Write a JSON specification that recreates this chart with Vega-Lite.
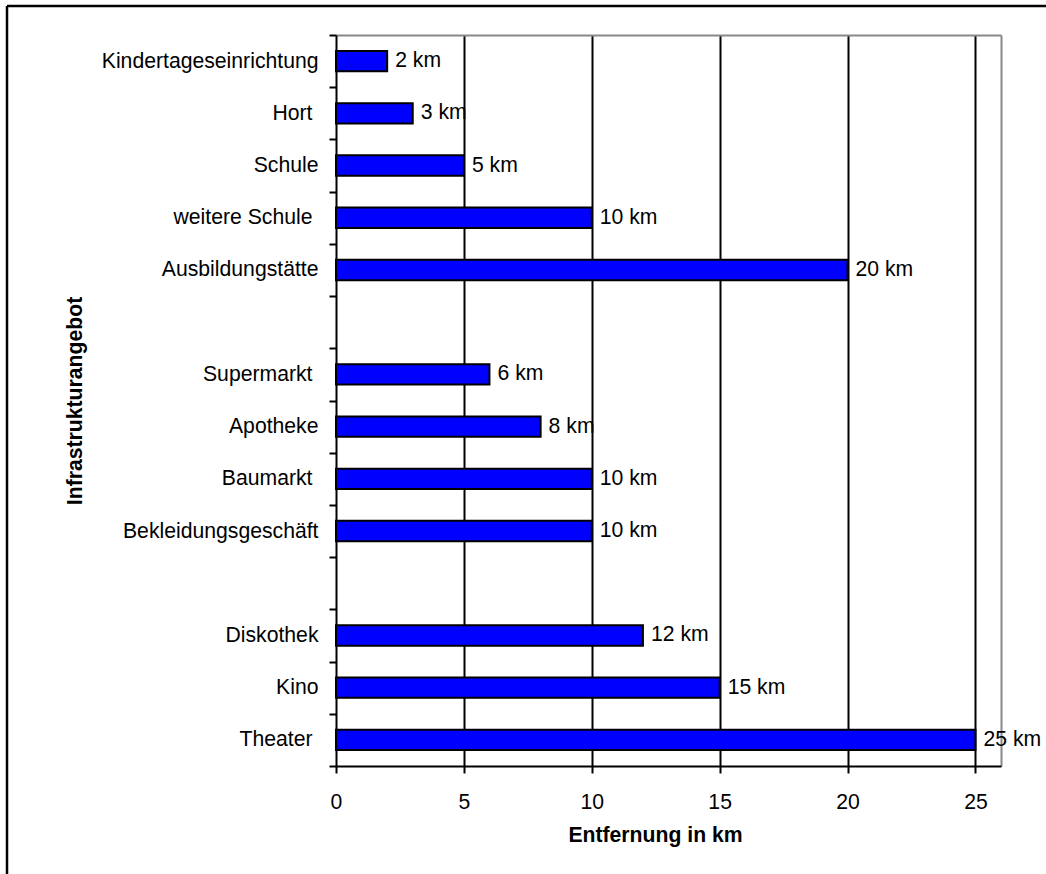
{
  "$schema": "https://vega.github.io/schema/vega-lite/v6.json",
  "width": 1039,
  "height": 868,
  "autosize": {"type": "none"},
  "padding": {"left": 7, "top": 6, "right": 0, "bottom": 0},
  "background": "white",
  "config": {
    "font": "Liberation Sans",
    "view": {"stroke": "black", "strokeWidth": 2.5, "strokeDash": [1039, 1907, 868, 0]},
    "axis": {
      "labelFont": "Liberation Sans",
      "titleFont": "Liberation Sans",
      "labelFontSize": 21.2,
      "titleFontSize": 21.2,
      "labelColor": "black",
      "titleColor": "black",
      "domainColor": "black",
      "tickColor": "black",
      "domainWidth": 2,
      "tickWidth": 2,
      "labelLimit": 0
    }
  },
  "data": {
    "values": [
      {"angebot": "Kindertageseinrichtung", "km": 2, "label": "2 km"},
      {"angebot": "Hort", "km": 3, "label": "3 km"},
      {"angebot": "Schule", "km": 5, "label": "5 km"},
      {"angebot": "weitere Schule", "km": 10, "label": "10 km"},
      {"angebot": "Ausbildungstätte", "km": 20, "label": "20 km"},
      {"angebot": "Supermarkt", "km": 6, "label": "6 km"},
      {"angebot": "Apotheke", "km": 8, "label": "8 km"},
      {"angebot": "Baumarkt", "km": 10, "label": "10 km"},
      {"angebot": "Bekleidungsgeschäft", "km": 10, "label": "10 km"},
      {"angebot": "Diskothek", "km": 12, "label": "12 km"},
      {"angebot": "Kino", "km": 15, "label": "15 km"},
      {"angebot": "Theater", "km": 25, "label": "25 km"}
    ]
  },
  "encoding": {
    "y": {
      "field": "angebot",
      "type": "nominal",
      "scale": {
        "domain": ["Kindertageseinrichtung", "Hort", "Schule", "weitere Schule", "Ausbildungstätte", " ", "Supermarkt", "Apotheke", "Baumarkt", "Bekleidungsgeschäft", "  ", "Diskothek", "Kino", "Theater"],
        "range": [29, 760],
        "paddingInner": 0,
        "paddingOuter": 0
      },
      "axis": {
        "orient": "left",
        "offset": -329,
        "tickBand": "extent",
        "tickSize": 7,
        "labelPadding": {
          "condition": {"test": "indexof(['Hort', 'weitere Schule', 'Supermarkt', 'Baumarkt', 'Theater'], datum.value) >= 0", "value": 17},
          "value": 11
        },
        "grid": false,
        "title": "Infrastrukturangebot",
        "titleFontWeight": "bold",
        "titlePadding": 51
      }
    }
  },
  "layer": [
    {
      "mark": {"type": "bar", "height": {"band": 0.39}, "fill": "#0000ff", "stroke": "black", "strokeWidth": 2},
      "encoding": {
        "x": {
          "field": "km",
          "type": "quantitative",
          "scale": {"domain": [0, 26], "range": [329, 994], "nice": false, "zero": true},
          "axis": {
            "orient": "bottom",
            "offset": -108,
            "values": [0, 5, 10, 15, 20, 25],
            "grid": false,
            "tickSize": 7,
            "labelPadding": 18,
            "labelFlush": false,
            "labelOverlap": false,
            "title": "Entfernung in km",
            "titleFontWeight": "bold",
            "titlePadding": 12,
            "titleX": 648
          }
        }
      }
    },
    {
      "mark": {"type": "text", "align": "left", "baseline": "middle", "dx": 8, "fontSize": 21.2, "font": "Liberation Sans", "color": "black"},
      "encoding": {
        "x": {
          "field": "km",
          "type": "quantitative",
          "axis": {
            "orient": "top",
            "offset": -29,
            "values": [5, 10, 15, 20, 25, 26],
            "grid": true,
            "gridColor": {"condition": {"test": "datum.value === 26", "value": "#888888"}, "value": "black"},
            "gridWidth": 2,
            "gridOpacity": 1,
            "domainColor": "#888888",
            "domainWidth": 2,
            "ticks": false,
            "labels": false,
            "title": null
          }
        },
        "text": {"field": "label"}
      }
    }
  ],
  "resolve": {"axis": {"x": "independent"}}
}
